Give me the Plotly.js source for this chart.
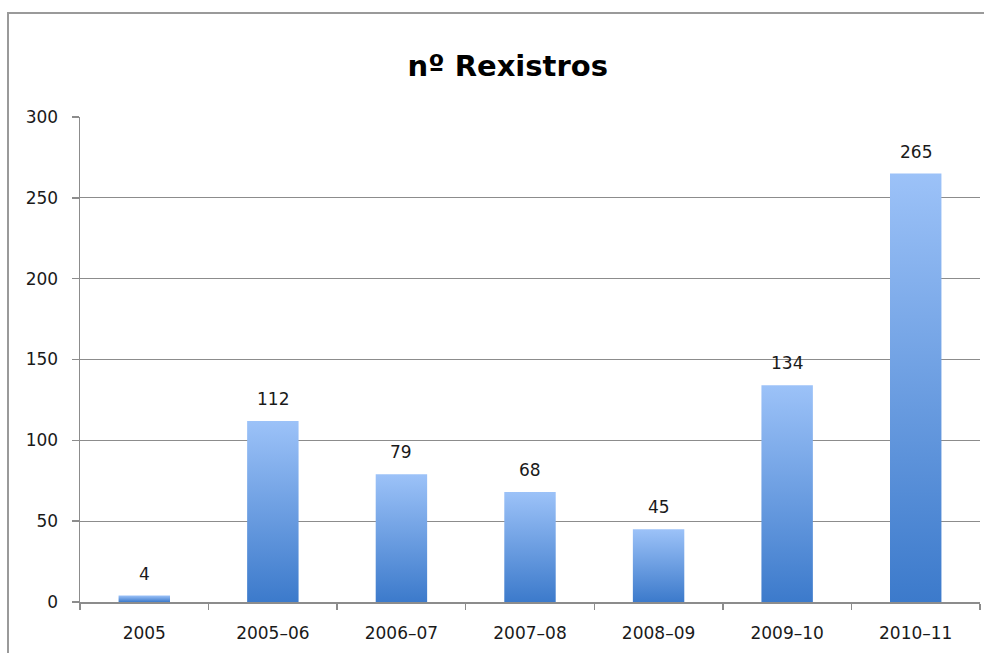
<!DOCTYPE html>
<html>
<head>
<meta charset="utf-8">
<script src="https://cdn.plot.ly/plotly-3.0.1.min.js"></script>
<style>
  html, body { margin: 0; padding: 0; background: #fff; overflow: hidden; }
  #chart { position: absolute; left: 0; top: 0; width: 984px; height: 653px; }
  #frame { position: absolute; left: 7px; top: 12px; width: 1100px; height: 800px;
           border-left: 2px solid #9a9a9a; border-top: 2px solid #9a9a9a; pointer-events: none; }
</style>
</head>
<body>
<div id="chart"></div>
<div id="frame"></div>
<script>
const categories = ["2005", "2005–06", "2006–07", "2007–08", "2008–09", "2009–10", "2010–11"];
const registros = [4, 112, 79, 68, 45, 134, 265];
const yTicks = [0, 50, 100, 150, 200, 250, 300];
const chartTitle = "nº Rexistros";

const fontFam = "'DejaVu Sans', 'Open Sans', sans-serif";

const trace = {
  type: "bar",
  x: categories,
  y: registros,
  marker: { color: "#6a9de6", line: { width: 0 } },
  hoverinfo: "x+y"
};

const annotations = categories.map((c, i) => ({
  x: i, y: registros[i], xref: "x", yref: "y",
  text: String(registros[i]), showarrow: false,
  yanchor: "bottom", yshift: 10,
  font: { family: fontFam, size: 17, color: "#1a1a1a" }
}));

const layout = {
  width: 984, height: 653,
  margin: { l: 80, r: 4, t: 117, b: 51 },
  paper_bgcolor: "#ffffff", plot_bgcolor: "#ffffff",
  showlegend: false,
  bargap: 0.6,
  title: {
    text: "<b>" + chartTitle + "</b>",
    font: { family: fontFam, size: 29, color: "#000" },
    x: 0.516, xref: "container", xanchor: "center",
    y: 0.9, yref: "container", yanchor: "middle"
  },
  xaxis: {
    type: "category",
    categoryorder: "array", categoryarray: categories,
    range: [-0.5, categories.length - 0.5],
    tickson: "boundaries",
    ticks: "outside", ticklen: 6, tickcolor: "#8c8c8c", tickwidth: 1.5,
    showline: true, linecolor: "#8c8c8c", linewidth: 1.5,
    showgrid: false, zeroline: false,
    tickfont: { family: fontFam, size: 17, color: "#1a1a1a" },
    ticklabelstandoff: 15
  },
  yaxis: {
    range: [0, 300],
    tickvals: yTicks,
    ticks: "outside", ticklen: 7, tickcolor: "#8c8c8c", tickwidth: 1.5,
    showline: true, linecolor: "#8c8c8c", linewidth: 1.5,
    showgrid: true, gridcolor: "#8c8c8c", gridwidth: 1.2,
    zeroline: false,
    tickfont: { family: fontFam, size: 17, color: "#1a1a1a" },
    ticklabelstandoff: 10
  },
  annotations: annotations
};
// title position in container fraction (from top): ~66px of 653
layout.title.y = 1 - 66 / 653;

Plotly.newPlot("chart", [trace], layout, { displayModeBar: false, staticPlot: true }).then(gd => {
  const svg = gd.querySelector("svg.main-svg");
  const ns = "http://www.w3.org/2000/svg";
  let defs = svg.querySelector("defs");
  if (!defs) { defs = document.createElementNS(ns, "defs"); svg.insertBefore(defs, svg.firstChild); }
  const grad = document.createElementNS(ns, "linearGradient");
  grad.setAttribute("id", "barGrad");
  grad.setAttribute("x1", "0"); grad.setAttribute("y1", "0");
  grad.setAttribute("x2", "0"); grad.setAttribute("y2", "1");
  [["0%", "#9cc2f8"], ["100%", "#3c7acb"]].forEach(([o, c]) => {
    const s = document.createElementNS(ns, "stop");
    s.setAttribute("offset", o); s.setAttribute("stop-color", c);
    grad.appendChild(s);
  });
  defs.appendChild(grad);
  gd.querySelectorAll(".bars .point path").forEach(p => { p.style.fill = "url(#barGrad)"; });
});
</script>
</body>
</html>
